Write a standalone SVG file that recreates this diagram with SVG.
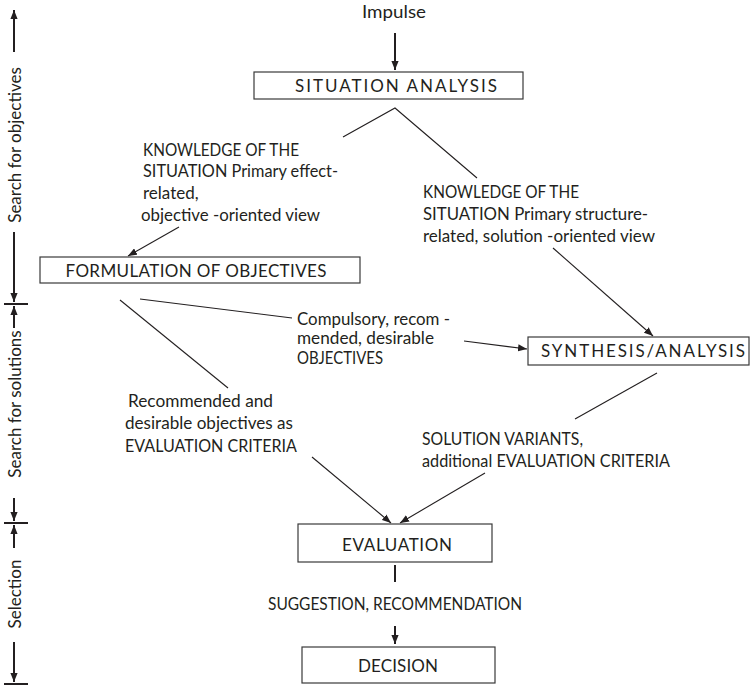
<svg xmlns="http://www.w3.org/2000/svg" width="752" height="685" viewBox="0 0 752 685">
  <style>
    text { font-family: "Lato", "Liberation Sans", sans-serif; font-size: 17px; fill: #231f20; }
    .mid { text-anchor: middle; }
    .box { fill: #ffffff; stroke: #3a3a3a; stroke-width: 1.2; }
    .conn { fill: none; stroke: #231f20; stroke-width: 1.1; }
    .bold { fill: none; stroke: #231f20; stroke-width: 2; }
    .axis { fill: none; stroke: #231f20; stroke-width: 2; }
  </style>
  <defs>
    <marker id="arrow" viewBox="0 0 10 8" refX="10" refY="4" markerWidth="9" markerHeight="7.5" markerUnits="userSpaceOnUse" orient="auto">
      <path d="M0,0 L10,4 L0,8 Z" fill="#231f20"/>
    </marker>
  </defs>

  <!-- phase scale on the left edge -->
  <g id="phase-scale">
    <line class="axis" x1="14" y1="52" x2="14" y2="10" marker-end="url(#arrow)"/>
    <text transform="translate(21,145) rotate(-90)" class="mid">Search for objectives</text>
    <line class="axis" x1="14" y1="232" x2="14" y2="302" marker-end="url(#arrow)"/>
    <line class="axis" x1="4" y1="304" x2="28" y2="304"/>
    <line class="axis" x1="14" y1="328" x2="14" y2="306" marker-end="url(#arrow)"/>
    <text transform="translate(21,404) rotate(-90)" class="mid">Search for solutions</text>
    <line class="axis" x1="14" y1="498" x2="14" y2="521" marker-end="url(#arrow)"/>
    <line class="axis" x1="4" y1="523" x2="28" y2="523"/>
    <line class="axis" x1="14" y1="548" x2="14" y2="525" marker-end="url(#arrow)"/>
    <text transform="translate(21,594) rotate(-90)" class="mid">Selection</text>
    <line class="axis" x1="14" y1="642" x2="14" y2="682" marker-end="url(#arrow)"/>
    <line class="axis" x1="4" y1="684" x2="28" y2="684"/>
  </g>

  <!-- connectors and their labels -->
  <g id="connectors">
    <text x="394" y="18" class="mid" textLength="64" lengthAdjust="spacingAndGlyphs">Impulse</text>
    <line class="bold" x1="395" y1="33" x2="395" y2="70" marker-end="url(#arrow)"/>

    <polyline class="conn" points="343,137 395,108 477,178"/>

    <text x="143" y="156" textLength="156" lengthAdjust="spacingAndGlyphs">KNOWLEDGE OF THE</text>
    <text x="143" y="177" textLength="195" lengthAdjust="spacingAndGlyphs">SITUATION Primary effect-</text>
    <text x="143" y="199">related,</text>
    <text x="141" y="221" textLength="179" lengthAdjust="spacingAndGlyphs">objective -oriented view</text>
    <line class="conn" x1="179" y1="227" x2="128" y2="256" marker-end="url(#arrow)"/>

    <text x="423" y="198" textLength="156" lengthAdjust="spacingAndGlyphs">KNOWLEDGE OF THE</text>
    <text x="423" y="220" textLength="225" lengthAdjust="spacingAndGlyphs">SITUATION Primary structure-</text>
    <text x="423" y="242" textLength="232" lengthAdjust="spacingAndGlyphs">related, solution -oriented view</text>
    <line class="conn" x1="553" y1="248" x2="653" y2="336" marker-end="url(#arrow)"/>

    <line class="conn" x1="140" y1="299" x2="292" y2="318"/>
    <text x="297" y="325" textLength="153" lengthAdjust="spacingAndGlyphs">Compulsory, recom -</text>
    <text x="297" y="344" textLength="137" lengthAdjust="spacingAndGlyphs">mended, desirable</text>
    <text x="297" y="364" textLength="86" lengthAdjust="spacingAndGlyphs">OBJECTIVES</text>
    <line class="conn" x1="464" y1="341" x2="527" y2="349" marker-end="url(#arrow)"/>

    <line class="conn" x1="120" y1="300" x2="228" y2="388"/>
    <text x="128" y="407" textLength="145" lengthAdjust="spacingAndGlyphs">Recommended and</text>
    <text x="125" y="429" textLength="168" lengthAdjust="spacingAndGlyphs">desirable objectives as</text>
    <text x="125" y="452" textLength="172" lengthAdjust="spacingAndGlyphs">EVALUATION  CRITERIA</text>
    <line class="conn" x1="312" y1="457" x2="391" y2="523" marker-end="url(#arrow)"/>

    <line class="conn" x1="657" y1="373" x2="575" y2="419"/>
    <text x="422" y="445" textLength="161" lengthAdjust="spacingAndGlyphs">SOLUTION VARIANTS,</text>
    <text x="422" y="467" textLength="248" lengthAdjust="spacingAndGlyphs">additional EVALUATION CRITERIA</text>
    <line class="conn" x1="485" y1="473" x2="400" y2="523" marker-end="url(#arrow)"/>

    <line class="bold" x1="395" y1="565" x2="395" y2="582"/>
    <text x="395" y="610" class="mid" textLength="254" lengthAdjust="spacingAndGlyphs">SUGGESTION, RECOMMENDATION</text>
    <line class="bold" x1="395" y1="626" x2="395" y2="644" marker-end="url(#arrow)"/>
  </g>

  <g id="situation-analysis">
    <rect class="box" x="254" y="72" width="269" height="27"/>
    <text x="396" y="92" class="mid" textLength="202" lengthAdjust="spacing">SITUATION ANALYSIS</text>
  </g>

  <g id="formulation-of-objectives">
    <rect class="box" x="40" y="257" width="320" height="26"/>
    <text x="196" y="277" class="mid" textLength="261" lengthAdjust="spacing">FORMULATION OF OBJECTIVES</text>
  </g>

  <g id="synthesis-analysis">
    <rect class="box" x="528" y="337" width="221" height="28"/>
    <text x="643" y="357" class="mid" textLength="204" lengthAdjust="spacing">SYNTHESIS/ANALYSIS</text>
  </g>

  <g id="evaluation">
    <rect class="box" x="298" y="524" width="194" height="38"/>
    <text x="397" y="551" class="mid" textLength="110" lengthAdjust="spacing">EVALUATION</text>
  </g>

  <g id="decision">
    <rect class="box" x="302" y="647" width="193" height="36"/>
    <text x="398" y="672" class="mid" textLength="80" lengthAdjust="spacing">DECISION</text>
  </g>
</svg>
